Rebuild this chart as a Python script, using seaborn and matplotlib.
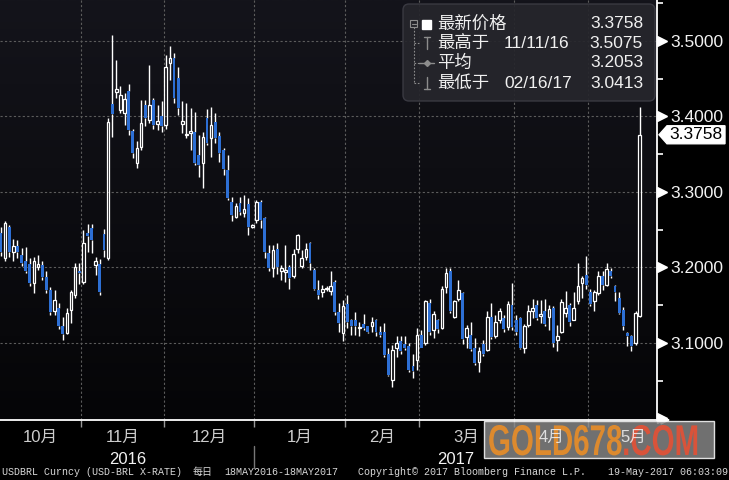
import matplotlib.pyplot as plt
import matplotlib.patches as mpatches
import matplotlib.transforms as mtransforms
from matplotlib.colors import LinearSegmentedColormap
from matplotlib.font_manager import FontProperties
from matplotlib.textpath import TextPath
from matplotlib.ticker import MultipleLocator
import numpy as np
import pandas as pd
import seaborn as sns

plt.switch_backend('agg')

# USD-BRL daily bars, 3 Oct 2016 - 18 May 2017 (Brazilian holidays skipped)
holidays = ['2016-10-12', '2016-11-02', '2016-11-15', '2017-02-27', '2017-02-28',
            '2017-04-14', '2017-04-21', '2017-05-01']

opens = [3.246, 3.212, 3.253, 3.220, 3.228, 3.216, 3.208, 3.205, 3.180, 3.200,
         3.203, 3.187, 3.170, 3.143, 3.146, 3.122, 3.113, 3.144, 3.164, 3.196,
         3.181, 3.246, 3.252, 3.203, 3.205, 3.245, 3.213, 3.416, 3.433, 3.409,
         3.404, 3.434, 3.381, 3.339, 3.360, 3.415, 3.395, 3.422, 3.390, 3.401,
         3.389, 3.471, 3.477, 3.451, 3.390, 3.375, 3.378, 3.380, 3.349, 3.338,
         3.398, 3.372, 3.393, 3.374, 3.355, 3.329, 3.287, 3.267, 3.285, 3.272,
         3.284, 3.254, 3.263, 3.287, 3.265, 3.219, 3.199, 3.225, 3.196, 3.194,
         3.201, 3.189, 3.225, 3.202, 3.214, 3.233, 3.197, 3.170, 3.167, 3.171,
         3.169, 3.181, 3.141, 3.113, 3.152, 3.131, 3.130, 3.120, 3.125, 3.123,
         3.122, 3.131, 3.115, 3.114, 3.085, 3.051, 3.094, 3.102, 3.099, 3.096,
         3.069, 3.078, 3.111, 3.100, 3.153, 3.117, 3.130, 3.120, 3.174, 3.196,
         3.135, 3.158, 3.166, 3.108, 3.111, 3.094, 3.075, 3.099, 3.091, 3.135,
         3.109, 3.130, 3.133, 3.121, 3.150, 3.131, 3.133, 3.093, 3.124, 3.143,
         3.150, 3.136, 3.143, 3.134, 3.146, 3.104, 3.115, 3.140, 3.150, 3.131,
         3.155, 3.179, 3.190, 3.168, 3.156, 3.166, 3.189, 3.177, 3.195, 3.175,
         3.160, 3.144, 3.113, 3.109, 3.100, 3.136]
highs = [3.254, 3.262, 3.256, 3.238, 3.236, 3.226, 3.227, 3.212, 3.214, 3.216,
         3.208, 3.195, 3.174, 3.170, 3.153, 3.134, 3.146, 3.170, 3.206, 3.206,
         3.250, 3.257, 3.258, 3.214, 3.211, 3.251, 3.398, 3.5075, 3.475, 3.440,
         3.431, 3.443, 3.384, 3.367, 3.422, 3.422, 3.468, 3.424, 3.415, 3.420,
         3.482, 3.494, 3.484, 3.466, 3.421, 3.418, 3.411, 3.406, 3.376, 3.380,
         3.410, 3.413, 3.404, 3.380, 3.358, 3.349, 3.294, 3.285, 3.294, 3.296,
         3.292, 3.258, 3.289, 3.290, 3.267, 3.230, 3.230, 3.232, 3.203, 3.230,
         3.203, 3.225, 3.245, 3.223, 3.232, 3.234, 3.199, 3.183, 3.177, 3.175,
         3.195, 3.183, 3.153, 3.157, 3.164, 3.132, 3.141, 3.128, 3.138, 3.123,
         3.135, 3.132, 3.123, 3.127, 3.093, 3.097, 3.109, 3.109, 3.109, 3.100,
         3.086, 3.120, 3.117, 3.157, 3.158, 3.142, 3.132, 3.175, 3.199, 3.199,
         3.157, 3.183, 3.168, 3.124, 3.128, 3.106, 3.095, 3.104, 3.142, 3.153,
         3.137, 3.146, 3.137, 3.155, 3.179, 3.137, 3.135, 3.125, 3.150, 3.158,
         3.157, 3.157, 3.158, 3.150, 3.149, 3.124, 3.158, 3.169, 3.153, 3.168,
         3.206, 3.189, 3.215, 3.172, 3.170, 3.195, 3.195, 3.206, 3.199, 3.177,
         3.167, 3.148, 3.114, 3.110, 3.142, 3.413]
lows = [3.215, 3.208, 3.214, 3.208, 3.212, 3.202, 3.193, 3.175, 3.166, 3.197,
        3.184, 3.166, 3.137, 3.137, 3.118, 3.104, 3.112, 3.126, 3.160, 3.178,
        3.178, 3.220, 3.219, 3.190, 3.163, 3.214, 3.210, 3.373, 3.424, 3.404,
        3.389, 3.376, 3.345, 3.332, 3.356, 3.387, 3.391, 3.384, 3.382, 3.379,
        3.384, 3.448, 3.418, 3.402, 3.378, 3.371, 3.356, 3.336, 3.320, 3.305,
        3.362, 3.347, 3.365, 3.340, 3.323, 3.289, 3.261, 3.265, 3.270, 3.267,
        3.243, 3.252, 3.259, 3.252, 3.212, 3.195, 3.188, 3.192, 3.183, 3.181,
        3.172, 3.186, 3.219, 3.199, 3.210, 3.197, 3.170, 3.158, 3.161, 3.169,
        3.164, 3.137, 3.115, 3.103, 3.120, 3.111, 3.111, 3.109, 3.117, 3.113,
        3.115, 3.109, 3.108, 3.082, 3.056, 3.0413, 3.082, 3.086, 3.091, 3.062,
        3.053, 3.064, 3.093, 3.098, 3.111, 3.106, 3.113, 3.118, 3.166, 3.140,
        3.133, 3.155, 3.099, 3.094, 3.089, 3.071, 3.062, 3.083, 3.089, 3.105,
        3.106, 3.126, 3.114, 3.117, 3.117, 3.111, 3.092, 3.087, 3.121, 3.133,
        3.131, 3.126, 3.122, 3.117, 3.095, 3.089, 3.113, 3.135, 3.122, 3.130,
        3.152, 3.159, 3.172, 3.149, 3.143, 3.164, 3.170, 3.175, 3.186, 3.155,
        3.138, 3.117, 3.096, 3.090, 3.097, 3.135]
closes = [3.220, 3.259, 3.221, 3.228, 3.221, 3.206, 3.196, 3.179, 3.208, 3.205,
          3.188, 3.170, 3.141, 3.157, 3.122, 3.112, 3.140, 3.167, 3.201, 3.193,
          3.233, 3.242, 3.236, 3.208, 3.168, 3.223, 3.393, 3.403, 3.436, 3.428,
          3.423, 3.382, 3.351, 3.358, 3.391, 3.398, 3.415, 3.389, 3.394, 3.387,
          3.466, 3.478, 3.424, 3.411, 3.394, 3.377, 3.381, 3.338, 3.336, 3.373,
          3.365, 3.389, 3.371, 3.351, 3.330, 3.292, 3.270, 3.282, 3.274, 3.278,
          3.254, 3.256, 3.287, 3.263, 3.221, 3.199, 3.223, 3.201, 3.199, 3.197,
          3.186, 3.218, 3.243, 3.212, 3.224, 3.206, 3.172, 3.164, 3.172, 3.173,
          3.176, 3.141, 3.126, 3.149, 3.128, 3.123, 3.123, 3.121, 3.120, 3.115,
          3.128, 3.115, 3.111, 3.084, 3.058, 3.091, 3.100, 3.089, 3.094, 3.064,
          3.063, 3.111, 3.094, 3.155, 3.115, 3.138, 3.118, 3.171, 3.193, 3.142,
          3.155, 3.170, 3.105, 3.120, 3.092, 3.073, 3.089, 3.086, 3.135, 3.108,
          3.128, 3.142, 3.118, 3.152, 3.121, 3.114, 3.094, 3.122, 3.143, 3.147,
          3.133, 3.139, 3.125, 3.145, 3.100, 3.109, 3.154, 3.147, 3.128, 3.147,
          3.175, 3.186, 3.177, 3.152, 3.167, 3.189, 3.177, 3.198, 3.189, 3.167,
          3.140, 3.122, 3.109, 3.096, 3.140, 3.3758]

month_names = ['10月', '11月', '12月', '1月', '2月', '3月', '4月', '5月']
y_ticks = [3.0, 3.1, 3.2, 3.3, 3.4, 3.5]
avg_price = 3.2053

W, H = 729, 480
UP_EDGE = 'white'
DOWN = '#2d6fd4'
GRID = '#5c5c5c'
TREE = '#8c8c8c'

sns.set_theme(style='dark', rc={'figure.facecolor': 'black', 'savefig.facecolor': 'black',
                                'axes.facecolor': '#0d0d12'})
plt.rcParams['font.family'] = ['Liberation Sans', 'Noto Sans CJK SC', 'DejaVu Sans']

# calendar: trading days up to end of May (extra days only place the month label)
days = pd.bdate_range('2016-10-03', '2017-05-31')
days = days[~days.isin(pd.to_datetime(holidays))]
df = pd.DataFrame({'date': days[:len(opens)], 'open': opens, 'high': highs,
                   'low': lows, 'close': closes})
df['x'] = np.arange(len(df))
df['top'] = df[['open', 'close']].max(axis=1)
df['bot'] = df[['open', 'close']].min(axis=1)
df['body'] = (df['top'] - df['bot']).clip(lower=0.0012)
df['up'] = df['close'] >= df['open']

cal = pd.DataFrame({'date': days, 'i': np.arange(len(days))})
cal['ym'] = cal['date'].dt.to_period('M')
month_first = cal.groupby('ym')['i'].min().values
month_mid = cal.groupby('ym')['i'].mean().values
bounds = month_first[1:] - 0.5
year_cut = cal.loc[cal['date'].dt.year == 2017, 'i'].min() - 0.5

fig = plt.figure(figsize=(W / 100, H / 100), dpi=100)
ax = fig.add_axes([0, 1 - 420 / H, 657 / W, 420 / H])
pix = mtransforms.IdentityTransform()

xlim = (-0.24, 159.2)
ylim = (2.998, 3.5543)

# dark gradient background
grad = LinearSegmentedColormap.from_list('bg', ['#050507', '#14141b'])
ax.imshow(np.linspace(0, 1, 256).reshape(-1, 1), extent=[0, 1, 0, 1], origin='lower',
          transform=ax.transAxes, cmap=grad, aspect='auto', zorder=0)

# grid
for b in bounds:
    ax.axvline(b, color=GRID, lw=0.8, ls=(0, (2, 2)), zorder=1)
for t in y_ticks[1:]:
    ax.axhline(t, color=GRID, lw=0.8, ls=(0, (2, 2)), zorder=1)

# candles
ax.vlines(df['x'], df['top'], df['high'], color='white', lw=1.0, zorder=3)
ax.vlines(df['x'], df['low'], df['bot'], color='white', lw=1.0, zorder=3)
u = df[df['up']]
d = df[~df['up']]
ax.bar(u['x'], u['body'], bottom=u['bot'], width=0.64, facecolor='none',
       edgecolor=UP_EDGE, lw=0.9, zorder=4)
ax.bar(d['x'], d['body'], bottom=d['bot'], width=0.7, color=DOWN, lw=0, zorder=4)

ax.set_xlim(*xlim)
ax.set_ylim(*ylim)

# axes / spines
for s in ['left', 'top']:
    ax.spines[s].set_visible(False)
for s in ['right', 'bottom']:
    ax.spines[s].set_color('white')
    ax.spines[s].set_linewidth(1.3)
ax.grid(False)

ax.yaxis.tick_right()
ax.set_yticks(y_ticks)
ax.set_yticklabels(['' if t == 3.0 else f'{t:.4f}' for t in y_ticks])
ax.yaxis.set_minor_locator(MultipleLocator(0.05))
ax.tick_params(axis='y', which='major', length=0, pad=9.5, labelsize=12.5,
               labelcolor='#f2f2f2')
ax.tick_params(axis='y', which='minor', length=4.5, width=1.2, color='white',
               direction='out', right=True)
tri = mtransforms.offset_copy(ax.get_yaxis_transform(), fig=fig, x=4.5, units='dots')
ax.plot([1.0] * len(y_ticks), y_ticks, ls='none', marker='>', ms=6.5, color='white',
        transform=tri, clip_on=False, zorder=6)

ax.set_xticks(bounds)
ax.set_xticklabels([])
ax.tick_params(axis='x', which='major', length=5, width=1, color='#9a9a9a',
               direction='out', bottom=True)

# bottom axis arrow past the price scale
fig.add_artist(plt.Line2D([657, 664], [H - 420, H - 420], color='white', lw=1.3,
                          transform=pix))
fig.add_artist(mpatches.Polygon([[661, H - 416], [669, H - 420], [661, H - 424]],
                                closed=True, color='white', transform=pix))

# watermark (under the month labels)
fig.add_artist(mpatches.Rectangle((484, H - 458), 230, 37, facecolor='#858585',
                                  alpha=0.85, transform=pix, zorder=5))
wm_font = FontProperties(family='Liberation Sans', weight='bold')
x0 = 488
for part, col in [('GOLD678', '#dd8a2e'), ('.COM', '#d9533a')]:
    tp = TextPath((0, 0), part, size=1, prop=wm_font)
    ext = tp.get_extents()
    tr = mtransforms.Affine2D().scale(29.5, 43).translate(x0, H - 455) + pix
    fig.add_artist(mpatches.PathPatch(tp, facecolor=col, edgecolor='none',
                                      transform=tr, zorder=6))
    x0 += (ext.x1 + 0.02) * 29.5

# month and year labels
xdat_pix = mtransforms.blended_transform_factory(ax.transData, pix)
for name, m in zip(month_names, month_mid):
    fig.text(m, H - 437, name, transform=xdat_pix, ha='center', va='center',
             fontsize=12, color='#f2f2f2', alpha=0.85, zorder=7)
fig.text((xlim[0] + year_cut) / 2, H - 459, '2016', transform=xdat_pix, ha='center',
         va='center', fontsize=12, color='#f2f2f2')
fig.text((year_cut + xlim[1]) / 2, H - 459, '2017', transform=xdat_pix, ha='center',
         va='center', fontsize=12, color='#f2f2f2')
ax.plot([year_cut, year_cut], [H - 446, H - 468], color='#777777', lw=1,
        transform=xdat_pix, clip_on=False)

# last price tag
last = df['close'].iloc[-1]
ytag = ax.transData.transform((0, last))[1]
tag = mpatches.Polygon([[659, ytag], [667, ytag + 9], [725, ytag + 9],
                        [725, ytag - 9], [667, ytag - 9]], closed=True,
                       facecolor='white', edgecolor='white', transform=pix)
fig.add_artist(tag)
fig.text(696, ytag, f'{last:.4f}', transform=pix, ha='center', va='center',
         fontsize=12.5, color='black')

# legend box
fig.add_artist(mpatches.FancyBboxPatch((403, H - 101), 252, 97,
                                       boxstyle='round,pad=0,rounding_size=6',
                                       facecolor='#26262c', edgecolor='#3c3c44',
                                       lw=1, alpha=0.92, transform=pix))
hi = df.loc[df['high'].idxmax()]
lo = df.loc[df['low'].idxmin()]
rows = [
    ('最新价格', '', last),
    ('最高于', hi['date'].strftime('%m/%d/%y'), hi['high']),
    ('平均', '', avg_price),
    ('最低于', lo['date'].strftime('%m/%d/%y'), lo['low']),
]
row_y = [23.5, 43, 62.5, 83]
for (lab, dt, val), ry in zip(rows, row_y):
    fig.text(437, H - ry, lab, transform=pix, ha='left', va='center',
             fontsize=12.5, color='#f0f0f0')
    if dt:
        fig.text(504, H - ry, dt, transform=pix, ha='left', va='center',
                 fontsize=12.5, color='#f0f0f0')
    fig.text(643, H - ry, f'{val:.4f}', transform=pix, ha='right', va='center',
             fontsize=12.5, color='#f0f0f0')

# legend tree icons
fig.add_artist(mpatches.Rectangle((410, H - 27), 7, 7, fill=False, edgecolor=TREE,
                                  lw=0.8, transform=pix))
fig.add_artist(plt.Line2D([411.5, 415.5], [H - 23.5, H - 23.5], color=TREE, lw=0.8,
                          transform=pix))
fig.add_artist(mpatches.Rectangle((422, H - 28.5), 9, 9, color='white', transform=pix))
fig.add_artist(plt.Line2D([413.5, 413.5], [H - 27, H - 83], color=TREE, lw=0.8,
                          ls=(0, (1.5, 1.5)), transform=pix))
for ry in row_y[1:]:
    fig.add_artist(plt.Line2D([413.5, 419], [H - ry, H - ry], color=TREE, lw=0.8,
                              ls=(0, (1.5, 1.5)), transform=pix))
fig.add_artist(plt.Line2D([424, 430], [H - 37, H - 37], color=TREE, lw=1, transform=pix))
fig.add_artist(plt.Line2D([427, 427], [H - 37, H - 49], color=TREE, lw=1, transform=pix))
fig.add_artist(plt.Line2D([419, 434], [H - 62.5, H - 62.5], color=TREE, lw=1,
                          transform=pix))
fig.add_artist(plt.Line2D([426.5], [H - 62.5], color=TREE, marker='D', ms=3,
                          transform=pix))
fig.add_artist(plt.Line2D([427, 427], [H - 77, H - 89], color=TREE, lw=1, transform=pix))
fig.add_artist(plt.Line2D([424, 430], [H - 89, H - 89], color=TREE, lw=1, transform=pix))

# footer
foot = ['Liberation Mono', 'Noto Sans CJK SC']
for fx, s in [(2, 'USDBRL Curncy (USD-BRL X-RATE)'), (193, '每日'),
              (224, '18MAY2016-18MAY2017'),
              (358, 'Copyright© 2017 Bloomberg Finance L.P.'),
              (608, '19-May-2017 06:03:09')]:
    fig.text(fx, H - 472, s, transform=pix, ha='left', va='center', fontsize=7.2,
             color='#d8d8d8', family=foot)

fig.savefig('out.png', dpi=100, facecolor='black')
